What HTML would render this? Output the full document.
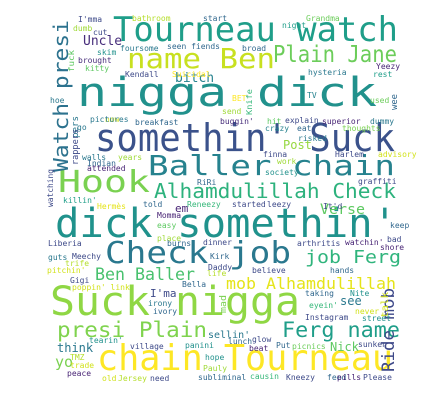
<!DOCTYPE html>
<html><head><meta charset="utf-8"><style>
html,body{margin:0;padding:0;background:#fff;width:439px;height:418px;overflow:hidden}
svg text{font-family:"DejaVu Sans Mono","Liberation Mono",monospace}
</style></head><body>
<svg id="wc" width="439" height="418" viewBox="0 0 439 418" xmlns="http://www.w3.org/2000/svg"></svg>
<script>
// [text, x, baselineY, fontSize, color, rotate(0/-90), textLength(optional)]
const big = [
["Tourneau watch",113,41,34,"#1f9e89",0,285],
["name Ben",127,68,28,"#c8e020",0,148],
["Plain Jane",273,62,23,"#6ccd5a",0,124],
["nigga dick",77,106,40,"#21918c",0,300],
["somethin' Suck",95,151,38,"#3b528b",0,300],
["Baller chain",148,175,28,"#26828e",0,247],
["Hook",58,192,30,"#7ad151",0,92],
["Alhamdulillah Check",154,198,20,"#2db27d",0,242],
["dick somethin'",55,237,40,"#20928c",0,342],
["Check job",105,263,30,"#2a788e",0,186],
["job Ferg",305,263,18,"#2fb47c",0,96],
["Ben Baller",95,280,17,"#48c16e",0,100],
["mob Alhamdulillah",226,289,16,"#e5e419",0,170],
["Suck nigga",50,315,40,"#8fd744",0,250],
["presi Plain",57,337,21,"#7fd34e",0,150],
["Ferg name",282,337,21,"#1f9e89",0,118],
["chain Tourneau",97,370,36,"#fde725",0,296],
["Verse",320,214,14,"#5ec962",0,45],
["Post",283,149,12,"#95d840",0,0],
["Uncle",83,45,13,"#472d7b",0,0],
["bitch",175,82,13,"#26828e",0,0],
["em",175,212,11,"#482475",0,0],
["I'ma",150,297,11,"#3e4a89",0,0],
["think",57,352,12,"#2a788e",0,0],
["yo",55,367,15,"#7ad151",0,0],
["Nick",330,351,12,"#5ec962",0,0],
["see",340,305,12,"#2a788e",0,0],
["sellin'",208,338,10,"#2a788e",0,0]
];
const vert = [
["Watch presi",68,172,20,"#2c728e",152],
["Ride mob",394,372,17,"#3e4989",84],
["watching",53,207,8,"#3e4a89",38],
["fuck",74,72,8,"#5ec962",22],
["pers",78,138,9,"#2a788e",22],
["rappers",78,165,9,"#3e4a89",36],
["Knife",252,115,8,"#35b779",26],
["wee",397,110,9,"#31688e",16],
["mad",226,313,9,"#7ad151",18],
["talk",388,318,10,"#d2e21b",26]
];
const small = [
["I'mma",78,19,"#3e4a89"],["bathroom",132,18,"#b5de2b"],["start",203,18,"#31688e"],["Grandma",306,18,"#6ccd5a"],["night",282,25,"#1f9e89"],
["dumb",73,28,"#a0da39"],["cut",93,32,"#3e4a89"],["foursome",120,48,"#2a788e"],["seen fiends",167,46,"#31688e"],["broad",242,48,"#31688e"],
["skim",97,52,"#21918c"],["brought",78,60,"#472d7b"],["kitty",85,68,"#5ec962"],["Kendall",125,74,"#3e4a89"],["Suicidal",172,74,"#fde725"],
["hysteria",308,72,"#2a788e"],["rest",373,74,"#1f9e89"],["Yeezy",376,66,"#482475"],["hoe",50,100,"#2a788e"],["BET",232,98,"#fde725"],
["send",222,111,"#a0da39"],["TV",307,95,"#26828e"],["used",370,100,"#6ccd5a"],["now",105,119,"#d2e21b"],["buggin'",220,121,"#472d7b"],
["hit",267,121,"#5ec962"],["explain",285,120,"#3e4a89"],["superior",322,121,"#482475"],["dummy",370,121,"#2a788e"],["go",77,127,"#2a788e"],
["pictures",90,119,"#2a788e"],["breakfast",135,122,"#31688e"],["crazy",265,128,"#26828e"],["eat",297,128,"#31688e"],["thoughts",342,128,"#7ad151"],
["risked",298,138,"#2a788e"],["walls",82,157,"#2a788e"],["years",118,157,"#a0da39"],["Indian",87,163,"#31688e"],["finna",263,154,"#3e4a89"],
["Harlem",335,154,"#3e4a89"],["advisory",378,154,"#d2e21b"],["attended",87,168,"#482475"],["work",277,161,"#a0da39"],["society",265,172,"#21918c"],
["RiRi",197,182,"#31688e"],["graffiti",358,181,"#3e4a89"],["killin'",63,200,"#1f9e89"],["Hermès",97,206,"#e5e419"],["told",143,204,"#31688e"],
["Reneezy",187,204,"#35b779"],["started",232,204,"#3e4a89"],["leezy",267,204,"#3e4a89"],["It'd",323,206,"#3e4a89"],["Momma",157,215,"#482475"],
["easy",157,225,"#5ec962"],["keep",390,225,"#31688e"],["place",157,238,"#a0da39"],["Liberia",48,243,"#3e4a89"],["burns",167,243,"#31688e"],
["dinner",203,242,"#3e4a89"],["arthritis",297,243,"#3e4a89"],["watchin'",345,242,"#482475"],["bad",387,239,"#3e4a89"],["guts",48,257,"#2a788e"],
["Meechy",72,256,"#3e4a89"],["Kirk",210,256,"#31688e"],["shore",380,247,"#482475"],["trife",65,263,"#b5de2b"],["Daddy",208,267,"#3e4a89"],
["pitchin'",47,270,"#d2e21b"],["life",207,273,"#b5de2b"],["believe",252,270,"#3e4a89"],["hands",330,270,"#31688e"],["Gigi",70,280,"#3e4a89"],
["Bella",182,284,"#31688e"],["poppin' link",72,287,"#d2e21b"],["taking",305,293,"#31688e"],["Nite",350,293,"#21918c"],["irony",148,303,"#2a788e"],
["ivory",153,311,"#31688e"],["eyein'",309,305,"#35b779"],["never",355,311,"#d2e21b"],["Instagram",305,317,"#3e4a89"],["street",362,318,"#21918c"],
["tearin'",89,340,"#21918c"],["village",130,346,"#3e4a89"],["panini",185,345,"#21918c"],["lunch",228,341,"#31688e"],["glow",252,339,"#3e4a89"],
["Put",276,345,"#31688e"],["picnics",292,346,"#6ccd5a"],["sunken",358,344,"#3e4a89"],["beat",249,348,"#482475"],["TMZ",70,357,"#b5de2b"],
["hope",205,357,"#21918c"],["trade",70,365,"#d2e21b"],["Pauly",203,368,"#a0da39"],["peace",67,373,"#482475"],["old",102,378,"#d2e21b"],
["Jersey",118,378,"#b5de2b"],["need",150,378,"#3e4a89"],["subliminal",198,377,"#31688e"],["causin",250,376,"#35b779"],["Kneezy",286,377,"#3e4a89"],
["feed",327,377,"#31688e"],["pills",337,377,"#482475"],["Please",363,377,"#3e4a89"]
];
const NS="http://www.w3.org/2000/svg";
const svg=document.getElementById('wc');
function slug(s){return 'word-'+s.toLowerCase().replace(/[^a-z0-9]+/g,'-').replace(/^-|-$/g,'');}
big.forEach(w=>{
  const t=document.createElementNS(NS,'text');
  t.setAttribute('x',w[1]);t.setAttribute('y',w[2]);
  t.setAttribute('font-size',w[3]);t.setAttribute('fill',w[4]);
  if(w[6]){t.setAttribute('textLength',w[6]);t.setAttribute('lengthAdjust','spacingAndGlyphs');}
  t.textContent=w[0];
  
  
  svg.appendChild(t);
});
vert.forEach(w=>{
  const t=document.createElementNS(NS,'text');
  t.setAttribute('x',0);t.setAttribute('y',0);
  t.setAttribute('transform','translate('+w[1]+','+w[2]+') rotate(-90)');
  t.setAttribute('font-size',w[3]);t.setAttribute('fill',w[4]);
  t.setAttribute('textLength',w[5]);t.setAttribute('lengthAdjust','spacingAndGlyphs');
  t.textContent=w[0];
  
  
  svg.appendChild(t);
});
small.forEach(w=>{
  const t=document.createElementNS(NS,'text');
  t.setAttribute('x',w[1]);t.setAttribute('y',w[2]+3);
  t.setAttribute('font-size',8);t.setAttribute('fill',w[3]);
  t.textContent=w[0];
  
  
  svg.appendChild(t);
});
</script>
</body></html>
